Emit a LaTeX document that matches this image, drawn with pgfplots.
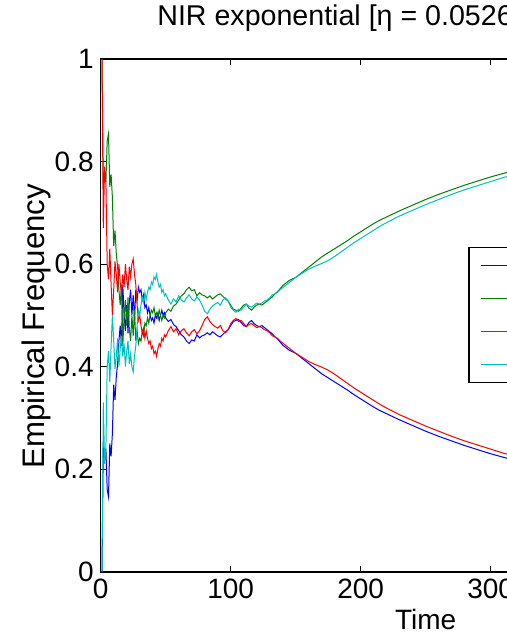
\documentclass[border=0pt]{standalone}
\usepackage{fontspec}
\setmainfont{Liberation Sans}
\usepackage{pgfplots}
\usepackage{pgfplotstable}
\pgfplotsset{compat=1.18}

\definecolor{mblue}{rgb}{0,0,1}
\definecolor{mgreen}{rgb}{0,0.5,0}
\definecolor{mred}{rgb}{1,0,0}
\definecolor{mcyan}{rgb}{0,0.75,0.75}

% empirical frequencies: b/g = player 1, r/c = player 2
\pgfplotstableread{
t   b     g     r     c
1   0.000 1.000 1.000 0.000
2   0.250 0.750 0.670 0.330
3   0.220 0.780 0.790 0.210
4   0.240 0.760 0.760 0.240
5   0.160 0.840 0.600 0.400
6   0.146 0.854 0.570 0.430
7   0.250 0.750 0.630 0.370
8   0.225 0.775 0.560 0.440
9   0.270 0.730 0.500 0.500
10  0.365 0.635 0.550 0.450
11  0.335 0.665 0.605 0.395
12  0.380 0.620 0.580 0.420
13  0.405 0.595 0.545 0.455
14  0.450 0.550 0.600 0.400
15  0.480 0.520 0.565 0.435
16  0.440 0.560 0.540 0.460
17  0.560 0.440 0.580 0.420
18  0.500 0.500 0.555 0.445
19  0.470 0.530 0.600 0.400
20  0.520 0.480 0.570 0.430
21  0.465 0.535 0.550 0.450
22  0.525 0.475 0.595 0.405
23  0.550 0.450 0.575 0.425
24  0.500 0.500 0.600 0.400
25  0.540 0.460 0.610 0.390
26  0.490 0.510 0.580 0.420
27  0.550 0.450 0.560 0.440
28  0.530 0.470 0.520 0.480
29  0.555 0.445 0.490 0.510
30  0.545 0.455 0.500 0.500
31  0.550 0.450 0.480 0.520
32  0.530 0.470 0.465 0.535
33  0.540 0.460 0.475 0.525
34  0.515 0.485 0.455 0.545
35  0.520 0.480 0.470 0.530
36  0.505 0.495 0.455 0.545
37  0.515 0.485 0.445 0.555
38  0.500 0.500 0.450 0.550
39  0.490 0.510 0.435 0.565
40  0.495 0.505 0.440 0.560
41  0.485 0.515 0.425 0.575
42  0.500 0.500 0.430 0.570
43  0.495 0.505 0.420 0.580
44  0.505 0.495 0.435 0.565
45  0.490 0.510 0.445 0.555
46  0.500 0.500 0.440 0.560
47  0.510 0.490 0.455 0.545
48  0.500 0.500 0.450 0.550
49  0.505 0.495 0.462 0.538
50  0.495 0.505 0.458 0.542
52  0.488 0.512 0.470 0.530
54  0.492 0.508 0.478 0.522
56  0.482 0.518 0.468 0.532
58  0.478 0.522 0.474 0.526
60  0.470 0.530 0.462 0.538
62  0.462 0.538 0.470 0.530
64  0.458 0.542 0.474 0.526
66  0.450 0.550 0.466 0.534
68  0.445 0.555 0.460 0.540
70  0.452 0.548 0.468 0.532
72  0.450 0.550 0.472 0.528
74  0.462 0.538 0.464 0.536
76  0.456 0.544 0.470 0.530
78  0.460 0.540 0.480 0.520
80  0.462 0.538 0.492 0.508
82  0.466 0.534 0.497 0.503
84  0.462 0.538 0.488 0.512
86  0.468 0.532 0.482 0.518
88  0.464 0.536 0.478 0.522
90  0.460 0.540 0.475 0.525
92  0.458 0.542 0.480 0.520
94  0.463 0.537 0.470 0.530
96  0.468 0.532 0.466 0.534
98  0.472 0.528 0.472 0.528
100 0.480 0.520 0.484 0.516
102 0.488 0.512 0.490 0.510
104 0.490 0.510 0.494 0.506
106 0.492 0.508 0.488 0.512
108 0.486 0.514 0.490 0.510
110 0.480 0.520 0.484 0.516
112 0.478 0.522 0.478 0.522
114 0.486 0.514 0.482 0.518
116 0.490 0.510 0.484 0.516
118 0.484 0.516 0.480 0.520
120 0.480 0.520 0.476 0.524
122 0.478 0.522 0.478 0.522
124 0.480 0.520 0.476 0.524
126 0.476 0.524 0.472 0.528
128 0.472 0.528 0.470 0.530
130 0.468 0.532 0.466 0.534
132 0.464 0.536 0.460 0.540
134 0.458 0.542 0.458 0.542
136 0.454 0.546 0.455 0.545
138 0.448 0.552 0.450 0.550
140 0.442 0.558 0.446 0.554
145 0.432 0.568 0.436 0.564
150 0.426 0.574 0.426 0.574
155 0.416 0.584 0.418 0.582
160 0.406 0.594 0.410 0.590
165 0.396 0.604 0.404 0.596
170 0.386 0.614 0.399 0.601
175 0.378 0.622 0.393 0.607
180 0.370 0.630 0.385 0.615
185 0.362 0.638 0.376 0.624
190 0.354 0.646 0.367 0.633
195 0.345 0.655 0.358 0.642
200 0.337 0.663 0.350 0.650
205 0.329 0.671 0.342 0.658
210 0.321 0.679 0.334 0.666
215 0.314 0.686 0.326 0.674
220 0.308 0.692 0.319 0.681
230 0.296 0.704 0.306 0.694
240 0.285 0.715 0.295 0.705
250 0.274 0.726 0.284 0.716
260 0.264 0.736 0.274 0.726
270 0.255 0.745 0.264 0.736
280 0.246 0.754 0.255 0.745
290 0.238 0.762 0.247 0.753
300 0.230 0.770 0.239 0.761
310 0.223 0.777 0.231 0.769
320 0.216 0.784 0.224 0.776
340 0.204 0.796 0.212 0.788
360 0.193 0.807 0.201 0.799
380 0.183 0.817 0.191 0.809
400 0.174 0.826 0.182 0.818
450 0.155 0.845 0.162 0.838
500 0.140 0.860 0.147 0.853
}\freq

\begin{document}
\begin{tikzpicture}
\begin{axis}[
  at={(0,0)}, anchor=south west,
  scale only axis, width=325pt, height=256.35pt,
  xmin=0, xmax=500, ymin=0, ymax=1,
  xtick={0,100,...,500}, ytick={0,0.2,...,1},
  tick align=inside, major tick length=3pt,
  axis line style={line width=0.8pt},
  every tick/.style={black, line width=0.5pt},
  font=\fontsize{14}{16}\selectfont,
  /pgf/number format/assume math mode=true,
  title={NIR exponential [η = 0.0526, T = 500]},
  title style={at={(axis description cs:0.0866,1.0429)}, anchor=base west, inner sep=0pt,
    font=\fontsize{14.3}{16}\selectfont},
  xlabel={Time}, ylabel={Empirical Frequency},
  xlabel style={at={(axis description cs:0.5,-0.1137)}, anchor=base},
  ylabel style={at={(axis description cs:-0.0870,0.479)}, anchor=base,
    font=\fontsize{15.6}{17}\selectfont},
  legend style={at={(axis description cs:0.565,0.634)}, anchor=north west,
    draw=black, line width=0.8pt, inner xsep=6pt, inner ysep=1.5pt, row sep=1.5pt,
    nodes={inner sep=1.5pt, text height=9pt, text depth=3pt}},
  legend cell align=left,
]
\addplot[mblue, line width=0.5pt, no marks] table[x=t, y=b] {\freq};
\addlegendentry{Player 1, action 1}
\addplot[mgreen, line width=0.5pt, no marks] table[x=t, y=g] {\freq};
\addlegendentry{Player 1, action 2}
\addplot[mred, line width=0.5pt, no marks] table[x=t, y=r] {\freq};
\addlegendentry{Player 2, action 1}
\addplot[mcyan, line width=0.5pt, no marks] table[x=t, y=c] {\freq};
\addlegendentry{Player 2, action 2}
\end{axis}
\pgfresetboundingbox
\path[use as bounding box] (-50.35pt,-32.65pt) rectangle (203.15pt,285.85pt);
\end{tikzpicture}
\end{document}
